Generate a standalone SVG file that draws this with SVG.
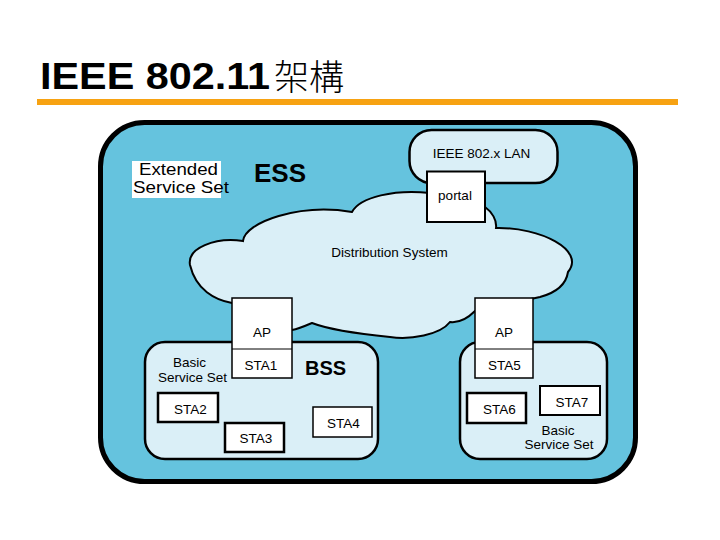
<svg xmlns="http://www.w3.org/2000/svg" width="720" height="540" viewBox="0 0 720 540">
<style>
.t{font-family:"Liberation Sans",Arial,sans-serif;fill:#000}
.lt{fill:#DAEFF7;stroke:#000}
.box{fill:#fff;stroke:#000}
</style>
<rect width="720" height="540" fill="#fff"/>
<g id="title">
<text class="t" x="40" y="89" font-size="37" font-weight="bold" textLength="230" lengthAdjust="spacingAndGlyphs">IEEE 802.11</text>
<text x="274" y="90" font-size="35" font-family="'Noto Sans CJK TC','Noto Sans CJK SC',sans-serif" font-weight="300">架構</text>
<rect x="37" y="99" width="641" height="6" fill="#F7A212"/>
</g>
<g id="ess">
<rect x="100.5" y="122.5" width="535" height="359" rx="44" fill="#65C3DE" stroke="#000" stroke-width="5"/>
<rect x="132" y="161" width="89" height="37" fill="#fff"/>
<text class="t" x="139" y="175" font-size="17" textLength="79" lengthAdjust="spacingAndGlyphs">Extended</text>
<text class="t" x="133" y="193" font-size="17" textLength="96" lengthAdjust="spacingAndGlyphs">Service Set</text>
<text class="t" x="254" y="182" font-size="26" font-weight="bold">ESS</text>
</g>
<g id="lan">
<rect x="409.5" y="130" width="148" height="53" rx="22" class="lt" stroke-width="2.5"/>
<text class="t" x="481.5" y="158" font-size="13.5" text-anchor="middle">IEEE 802.x LAN</text>
</g>
<g id="ds">
<path class="lt" stroke-width="2" d="M190,265 C187,248 215,237 243,241 C245,222 300,203 352,212 C360,197 395,189 430,193 L485,207 C492,212 497,220 496,228 C540,227 586,250 568,272 C566,285 555,293 540,297 L475,311 C466,320 458,323 450,322 C440,335 410,340 390,337 C360,334 330,330 312,323 C305,326 298,329 292,330 L232,303 C215,300 196,290 190,265 Z"/>
<text class="t" x="389.5" y="257" font-size="13.5" text-anchor="middle">Distribution System</text>
</g>
<g id="portal">
<rect x="427" y="171.5" width="58" height="50.5" class="box" stroke-width="2"/>
<text class="t" x="455" y="200" font-size="13.5" text-anchor="middle">portal</text>
</g>
<g id="bss1">
<rect x="145" y="342" width="233" height="117" rx="20" class="lt" stroke-width="2.5"/>
<text class="t" x="189.5" y="367" font-size="13.5" text-anchor="middle">Basic</text>
<text class="t" x="192.5" y="382" font-size="13.5" text-anchor="middle">Service Set</text>
<text class="t" x="325.5" y="375" font-size="20" font-weight="bold" text-anchor="middle">BSS</text>
</g>
<g id="ap1">
<rect x="232" y="298" width="60" height="80" class="box" stroke-width="1.5"/>
<line x1="232" y1="349" x2="292" y2="349" stroke="#000" stroke-width="1"/>
<text class="t" x="262" y="337" font-size="13.5" text-anchor="middle">AP</text>
<text class="t" x="261" y="370" font-size="13.5" text-anchor="middle">STA1</text>
</g>
<g id="sta2">
<rect x="158" y="393" width="60" height="29" class="box" stroke-width="2.5"/>
<text class="t" x="190.5" y="414" font-size="13.5" text-anchor="middle">STA2</text>
</g>
<g id="sta3">
<rect x="225" y="423" width="59" height="29" class="box" stroke-width="2.5"/>
<text class="t" x="256" y="443" font-size="13.5" text-anchor="middle">STA3</text>
</g>
<g id="sta4">
<rect x="313" y="407" width="59" height="30" class="box" stroke-width="1.5"/>
<text class="t" x="343.5" y="428" font-size="13.5" text-anchor="middle">STA4</text>
</g>
<g id="bss2">
<rect x="460" y="342" width="147" height="117" rx="20" class="lt" stroke-width="2.5"/>
<text class="t" x="558" y="435" font-size="13.5" text-anchor="middle">Basic</text>
<text class="t" x="559" y="449" font-size="13.5" text-anchor="middle">Service Set</text>
</g>
<g id="ap2">
<rect x="475" y="298" width="58" height="80" class="box" stroke-width="1.5"/>
<line x1="475" y1="349" x2="533" y2="349" stroke="#000" stroke-width="1"/>
<text class="t" x="504" y="337" font-size="13.5" text-anchor="middle">AP</text>
<text class="t" x="504.5" y="370" font-size="13.5" text-anchor="middle">STA5</text>
</g>
<g id="sta6">
<rect x="467" y="393" width="59" height="30" class="box" stroke-width="2.5"/>
<text class="t" x="499.5" y="414" font-size="13.5" text-anchor="middle">STA6</text>
</g>
<g id="sta7">
<rect x="540" y="386" width="60" height="29" class="box" stroke-width="2"/>
<text class="t" x="572" y="407" font-size="13.5" text-anchor="middle">STA7</text>
</g>
<g id="connectors"></g>
</svg>
